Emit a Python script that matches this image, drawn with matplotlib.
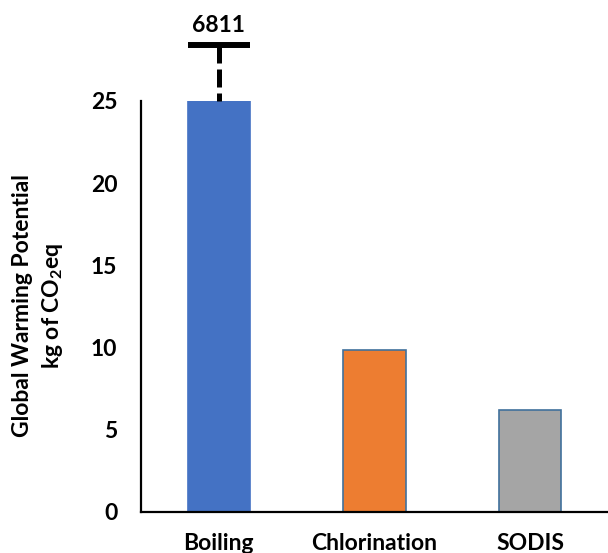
import matplotlib
matplotlib.use("Agg")
import matplotlib.pyplot as plt
import matplotlib.transforms as mtransforms

plt.rcParams['font.family'] = ['Lato', 'DejaVu Sans']
plt.rcParams['font.weight'] = 'bold'
plt.rcParams['mathtext.fontset'] = 'custom'
plt.rcParams['mathtext.rm'] = 'Lato:bold'
plt.rcParams['mathtext.it'] = 'Lato:bold'
plt.rcParams['mathtext.bf'] = 'Lato:bold'
plt.rcParams['mathtext.default'] = 'rm'

categories = ["Boiling", "Chlorination", "SODIS"]
values = [6811, 9.84, 6.19]
colors = ["#4472C4", "#ED7D31", "#A5A5A5"]
edge_colors = ["#4472C4", "#41719C", "#41719C"]
y_ticks = [0, 5, 10, 15, 20, 25]
y_max = 25
break_label = "6811"

FS = 16.5

fig = plt.figure(figsize=(6.08, 5.53), dpi=100)
ax = fig.add_axes([141/608, 1 - 511.7/553, 1 - 141/608, (511.7 - 101)/553])

x = list(range(len(categories)))
shown = [min(v, y_max) for v in values]
ax.bar(x, shown, width=0.40, color=colors, edgecolor=edge_colors, linewidth=1.2, zorder=2)

ax.set_xlim(-0.5, 2.5)
ax.set_ylim(0, y_max)
ax.set_yticks(y_ticks)
ax.set_xticks(x)
ax.set_xticklabels(categories)
ax.tick_params(axis='both', length=0, labelsize=FS)
ax.tick_params(axis='y', pad=17)
ax.tick_params(axis='x', pad=15)
for lab in ax.get_xticklabels() + ax.get_yticklabels():
    lab.set_fontweight('bold')

for side in ['top', 'right']:
    ax.spines[side].set_visible(False)
for side in ['left', 'bottom']:
    ax.spines[side].set_linewidth(1.6)
    ax.spines[side].set_color('black')

# break indicator for the off-scale bar
trans = mtransforms.blended_transform_factory(ax.transData, ax.transAxes)
cap_y = 1.137
ax.plot([0, 0], [cap_y, 1.0], transform=trans, color='black', lw=3.6,
        linestyle=(0, (3.6, 1.2)), solid_capstyle='butt', dash_capstyle='butt', clip_on=False)
ax.plot([-0.20, 0.20], [cap_y, cap_y], transform=trans, color='black', lw=4.3,
        solid_capstyle='butt', clip_on=False)
ax.text(0, 1.183, break_label, transform=trans, ha='center', va='center',
        fontsize=FS, fontweight='bold')

fig.text(38.5/608, 1 - 306/553, "Global Warming Potential\nkg of CO$_2$eq",
         rotation=90, ha='center', va='center', multialignment='center',
         fontsize=FS, fontweight='bold', linespacing=1.35)

fig.savefig("out.png", dpi=100)
